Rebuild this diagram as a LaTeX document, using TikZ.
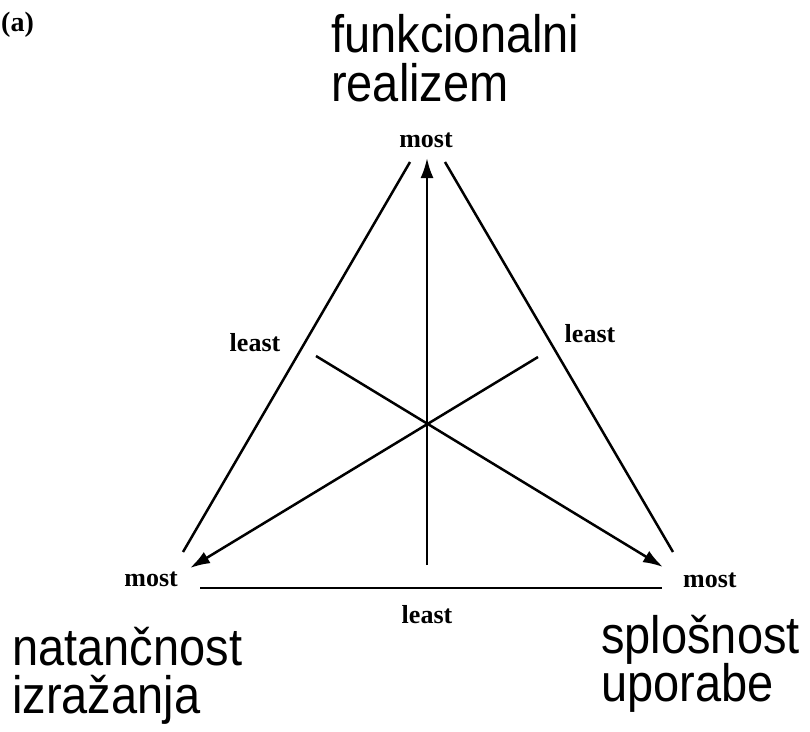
\documentclass[tikz,border=0pt]{standalone}
\usepackage{graphicx}
\usepackage{fontspec}
\setmainfont{Liberation Serif}
\newfontfamily\arialf{Liberation Sans}
\usetikzlibrary{arrows.meta}
\newcommand\stretchtwo[3]{\scalebox{1}[1.12]{\vtop{\baselineskip=#3\lineskiplimit=-200pt\relax\hbox{#1}\hbox{#2}}}}
\begin{document}
\begin{tikzpicture}[x=1pt,y=-1pt,
  big/.style={font=\arialf\fontsize{47}{47}\selectfont, inner sep=0pt, anchor=base west},
  lbl/.style={font=\bfseries\fontsize{26}{26}\selectfont, inner sep=0pt},
  ln/.style={line width=2.5pt},
  arr/.style={ln, -{Latex[length=20pt,width=13pt]}}]
\useasboundingbox (0,0) rectangle (810,731);

\node[lbl, anchor=base west, font=\bfseries\fontsize{28}{28}\selectfont] (a) at (1,31) {(a)};
\node[big] (fr) at (331,52) {\stretchtwo{funkcionalni}{realizem}{44.6pt}};
\node[big] (ni) at (12,665) {\stretchtwo{natančnost}{izražanja}{42.9pt}};
\node[big] (su) at (601,653) {\stretchtwo{splošnost}{uporabe}{42.9pt}};

\node[lbl, anchor=base] (mt) at (426,147) {most};
\node[lbl, anchor=base east] (ml) at (178,586) {most};
\node[lbl, anchor=base west] (mr) at (683,587) {most};
\node[lbl, anchor=base] (ll) at (255,351) {least};
\node[lbl, anchor=base] (lr) at (590,342) {least};
\node[lbl, anchor=base] (lb) at (427,623) {least};

\coordinate (c) at (427,425);
\coordinate (Lt) at (410,162);
\coordinate (Lb) at (183,552);
\coordinate (Rt) at (445,162);
\coordinate (Rb) at (673,552);
\coordinate (Bl) at (200,588);
\coordinate (Br) at (662,588);
\coordinate (Vb) at (427,565);
\coordinate (Vt) at (427,158);
\coordinate (NE) at (538,357);
\coordinate (SW) at (190,568);
\coordinate (NW) at (316,356);
\coordinate (SE) at (663,567);

\draw[ln] (Lt) -- (Lb);
\draw[ln] (Rt) -- (Rb);
\draw[ln] (Bl) -- (Br);
\draw[arr] (Vb) -- (Vt);
\draw[arr] (NE) -- (SW);
\draw[arr] (NW) -- (SE);
\end{tikzpicture}
\end{document}
